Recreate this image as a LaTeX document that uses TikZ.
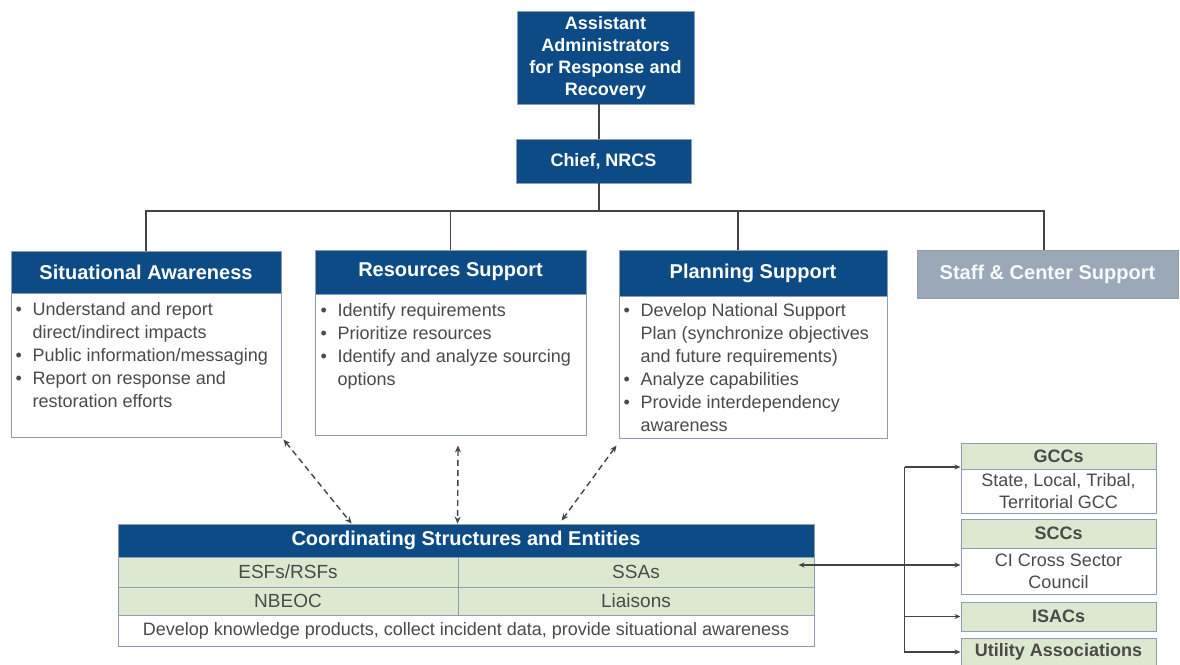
\documentclass[tikz,border=0pt]{standalone}
\usepackage{fontspec}
\setmainfont{Liberation Sans}
\usetikzlibrary{arrows.meta,calc}
\definecolor{navy}{HTML}{0C4B86}
\definecolor{lgreen}{HTML}{DDE8D0}
\definecolor{bord}{HTML}{8E9DB0}
\definecolor{conn}{HTML}{444444}
\definecolor{txt}{HTML}{4A4A4A}
\definecolor{stafff}{HTML}{9AA8B8}
\tikzset{
 navybox/.style={fill=navy, draw=bord, line width=0.8pt, text=white, font=\fontsize{20}{24}\selectfont\bfseries, inner sep=0pt, align=center},
 topbox/.style={navybox, font=\fontsize{18}{22}\selectfont\bfseries},
 staffbox/.style={fill=stafff, draw=bord, line width=0.8pt, text=white!93!stafff, font=\fontsize{20}{24}\selectfont\bfseries, inner sep=0pt},
 bodybox/.style={fill=white, draw=bord, line width=1pt},
 bodytext/.style={text=txt, font=\fontsize{18}{23}\selectfont, align=left, inner sep=0pt, anchor=north west},
 greencell/.style={fill=lgreen, draw=bord, line width=1pt, text=txt, font=\fontsize{19}{23}\selectfont, inner sep=0pt},
 whitecell/.style={fill=white, draw=bord, line width=1pt, text=txt, font=\fontsize{18}{22}\selectfont, inner sep=0pt, align=center},
 rhead/.style={greencell, font=\fontsize{18}{22}\selectfont\bfseries},
 orgline/.style={draw=conn, line width=1.3pt},
 dasharr/.style={draw=conn, line width=1.4pt, dash pattern=on 6pt off 4pt, {Stealth[length=7pt,width=6pt]}-{Stealth[length=7pt,width=6pt]}},
 carr/.style={draw=conn, line width=1.3pt, -{Stealth[length=6pt,width=5pt]}},
 carr2/.style={draw=conn, line width=1.3pt, {Stealth[length=6pt,width=5pt]}-{Stealth[length=6pt,width=5pt]}},
}
\newcommand{\bul}{\makebox[17pt][l]{\textbullet}}
\newcommand{\ind}{\hspace*{17pt}}
\begin{document}
\begin{tikzpicture}[x=1pt,y=-1pt]
\useasboundingbox (0,0) rectangle (1180,664);
% top
\node[topbox, minimum width=177pt, minimum height=93pt] (aa) at (605.5,57.5) {Assistant\\Administrators\\for Response and\\Recovery};
\node[topbox, minimum width=175pt, minimum height=44pt] (chief) at (603.5,161) {Chief, NRCS};
\coordinate (busy) at (0,211);
\draw[orgline] ([xshift=-4.5pt]chief.north |- aa.south) -- ([xshift=-4.5pt]chief.north);
\draw[orgline] ([xshift=-4.5pt]chief.south) -- ([xshift=-4.5pt]chief.south |- busy);
% headers
\node[navybox, minimum width=270pt, minimum height=42pt] (sah) at (146,272) {Situational Awareness};
\node[bodybox, minimum width=270pt, minimum height=144pt] (sab) at (146,365) {};
\node[navybox, minimum width=271pt, minimum height=44pt] (rsh) at (450.5,272) {Resources Support};
\node[bodybox, minimum width=271pt, minimum height=141pt] (rsb) at (450.5,364.5) {};
\node[navybox, minimum width=268pt, minimum height=46pt] (psh) at (753,273) {Planning Support};
\node[bodybox, minimum width=268pt, minimum height=142pt] (psb) at (753,367) {};
\node[staffbox, minimum width=261pt, minimum height=48pt] (staff) at (1047.5,274) {Staff \& Center Support};
% bus
\draw[orgline] (sah.north) -- (sah.north |- busy) -- ([xshift=-3.5pt]staff.north |- busy) -- ([xshift=-3.5pt]staff.north);
\draw[orgline] (rsh.north) -- (rsh.north |- busy);
\draw[orgline] ([xshift=-15pt]psh.north) -- ([xshift=-15pt]psh.north |- busy);
% body texts
\node[bodytext] (sat) at ([shift={(5pt,-10pt)}]sab.north west) {\bul Understand and report\\\ind direct/indirect impacts\\\bul Public information/messaging\\\bul Report on response and\\\ind restoration efforts};
\node[bodytext] (rst) at ([shift={(6pt,-10pt)}]rsb.north west) {\bul Identify requirements\\\bul Prioritize resources\\\bul Identify and analyze sourcing\\\ind options};
\node[bodytext] (pst) at ([shift={(5pt,-8pt)}]psb.north west) {\bul Develop National Support\\\ind Plan (synchronize objectives\\\ind and future requirements)\\\bul Analyze capabilities\\\bul Provide interdependency\\\ind awareness};
% coordinating structures
\node[navybox, minimum width=696pt, minimum height=33pt] (chh) at (466,540.5) {Coordinating Structures and Entities};
\node[greencell, minimum width=340pt, minimum height=30pt] (esf) at (288,572) {ESFs/RSFs};
\node[greencell, minimum width=356pt, minimum height=30pt] (ssa) at (636,572) {SSAs};
\node[greencell, minimum width=340pt, minimum height=28pt] (nbeoc) at (288,601) {NBEOC};
\node[greencell, minimum width=356pt, minimum height=28pt] (liais) at (636,601) {Liaisons};
\node[whitecell, minimum width=696pt, minimum height=31pt] (devp) at (466,630.5) {Develop knowledge products, collect incident data, provide situational awareness};
% dashed arrows
\draw[dasharr] ([shift={(2pt,-2pt)}]sab.south east) -- ([xshift=234pt]chh.north west);
\draw[dasharr] ([shift={(7.5pt,-10pt)}]rsb.south) -- ([xshift=340pt]chh.north west);
\draw[dasharr] ([shift={(-2pt,-7pt)}]psb.south west) -- ([xshift=444pt,yshift=3pt]chh.north west);
% right boxes
\node[rhead, minimum width=195pt, minimum height=26pt] (gcch) at (1058.5,456) {GCCs};
\node[whitecell, minimum width=195pt, minimum height=44pt] (gccb) at (1058.5,491) {State, Local, Tribal,\\Territorial GCC};
\node[rhead, minimum width=195pt, minimum height=29pt] (scch) at (1058.5,533.5) {SCCs};
\node[whitecell, minimum width=195pt, minimum height=46pt] (sccb) at (1058.5,571) {CI Cross Sector\\Council};
\node[rhead, minimum width=195pt, minimum height=29pt] (isac) at (1058.5,616.5) {ISACs};
\node[rhead, minimum width=195pt, minimum height=28pt] (util) at (1058.5,652) {Utility Associations};
% right connectors
\coordinate (v1) at ([xshift=-56pt,yshift=-11pt]gcch.west);
\draw[carr] (v1) -- ([yshift=-11pt]gcch.west);
\draw[carr] (v1) |- (util.west);
\draw[carr] (v1 |- isac.west) -- (isac.west);
\draw[carr2] ([xshift=-16pt,yshift=7pt]ssa.east) -- ([yshift=6pt]sccb.west);
\end{tikzpicture}
\end{document}
